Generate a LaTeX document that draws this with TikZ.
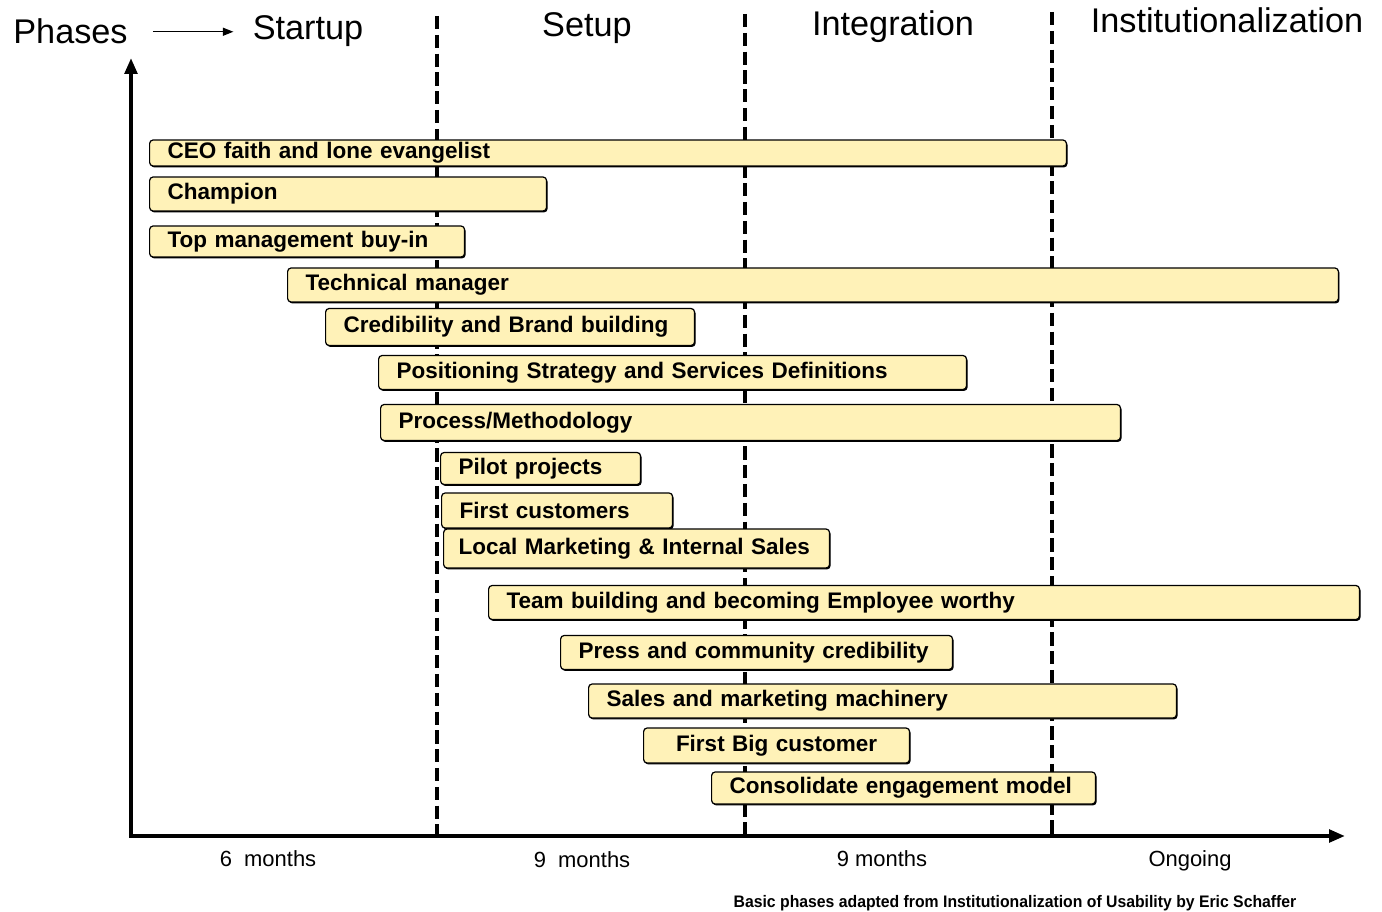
\documentclass[tikz,border=0pt]{standalone}
\usepackage{fontspec}
\setmainfont{Liberation Sans}
\usetikzlibrary{arrows.meta,shadows}
\definecolor{barfill}{RGB}{255,242,184}

\begin{document}
\begin{tikzpicture}[x=0.02cm, y=-0.02cm,
    actbar/.style={draw, line width=0.7pt, fill=barfill, rounded corners=2pt, anchor=west,
      align=left, inner xsep=0.36cm, inner ysep=0pt, font=\fontsize{12.8}{14}\selectfont\bfseries,
      drop shadow={shadow xshift=0.6pt, shadow yshift=-0.8pt, fill=black, opacity=1}},
    phase/.style={anchor=base, inner sep=0pt, font=\fontsize{19.5}{22}\selectfont},
    span/.style={anchor=base, font=\fontsize{12.5}{14}\selectfont},
    divider/.style={line width=1.8pt, dash pattern=on 7.5pt off 3.2pt}]
        \useasboundingbox (0, 0) rectangle (1382, 912);
        \coordinate (origin) at (131, 836);
        \coordinate (ytop) at (131, 58);
        \coordinate (xend) at (1345, 836);
        \coordinate (d1top) at (437, 16);
        \coordinate (d2top) at (745, 14);
        \coordinate (d3top) at (1052, 12);
        \draw[divider] (d1top) -- (d1top |- origin);
        \draw[divider] (d2top) -- (d2top |- origin);
        \draw[divider] (d3top) -- (d3top |- origin);
        \draw[line width=2.6pt, {Triangle[length=9pt, width=7pt]}-{Triangle[length=9pt, width=7pt]}] (ytop) -- (origin) -- (xend);
        \node[phase, anchor=base west] (phases) at (13, 44) {Phases};
        \node[phase] (startup) at (308, 40) {Startup};
        \node[phase] (setup) at (587, 37) {Setup};
        \node[phase] (integration) at (893, 36) {Integration};
        \node[phase] (institution) at (1227, 33) {Institutionalization};
        \draw[line width=0.8pt, -{Triangle[length=6pt, width=4.5pt]}, shorten <=0.5cm, shorten >=0.38cm] (phases.east) -- (phases.east -| startup.west);
        \node[actbar, text width=17.62cm, minimum height=0.52cm] (ceo) at (149, 153) {CEO faith and lone evangelist};
        \node[actbar, text width=7.22cm, minimum height=0.68cm] (champion) at (149, 194) {Champion};
        \node[actbar, text width=5.58cm, minimum height=0.62cm] (topmgmt) at (149, 241.5) {Top management buy-in};
        \node[actbar, text width=20.30cm, minimum height=0.68cm] (techmgr) at (287, 285) {Technical manager};
        \node[actbar, text width=6.66cm, minimum height=0.74cm] (brand) at (325, 327) {Credibility and Brand building};
        \node[actbar, text width=11.04cm, minimum height=0.68cm] (positioning) at (378, 372.5) {Positioning Strategy and Services Definitions};
        \node[actbar, text width=14.08cm, minimum height=0.72cm] (process) at (380, 422.5) {Process/Methodology};
        \node[actbar, text width=3.28cm, minimum height=0.64cm] (pilot) at (440, 468.5) {Pilot projects};
        \node[actbar, text width=3.90cm, minimum height=0.70cm] (firstcust) at (441, 510.5) {First customers};
        \node[actbar, text width=7.12cm, minimum height=0.78cm, inner xsep=0.3cm] (localmkt) at (443, 548.5) {Local Marketing \& Internal Sales};
        \node[actbar, text width=16.70cm, minimum height=0.68cm] (team) at (488, 602.5) {Team building and becoming Employee worthy};
        \node[actbar, text width=7.12cm, minimum height=0.68cm] (press) at (560, 652.5) {Press and community credibility};
        \node[actbar, text width=11.04cm, minimum height=0.68cm] (sales) at (588, 701) {Sales and marketing machinery};
        \node[actbar, text width=4.60cm, minimum height=0.70cm, align=center] (bigcust) at (643, 745.5) {First Big customer};
        \node[actbar, text width=6.96cm, minimum height=0.64cm] (consolidate) at (711, 788) {Consolidate engagement model};
        \node[span] (m1) at (268, 866) {6\ \ months};
        \node[span] (m2) at (582, 867) {9\ \ months};
        \node[span] (m3) at (882, 866) {9 months};
        \node[span] (ongoing) at (1190, 866) {Ongoing};
        \node[anchor=base, font=\fontsize{9.5}{11}\selectfont\bfseries] (source) at (1015, 907)
          {\scalebox{0.945}[1]{Basic phases adapted from Institutionalization of Usability by Eric Schaffer}};
      \end{tikzpicture}
\end{document}
